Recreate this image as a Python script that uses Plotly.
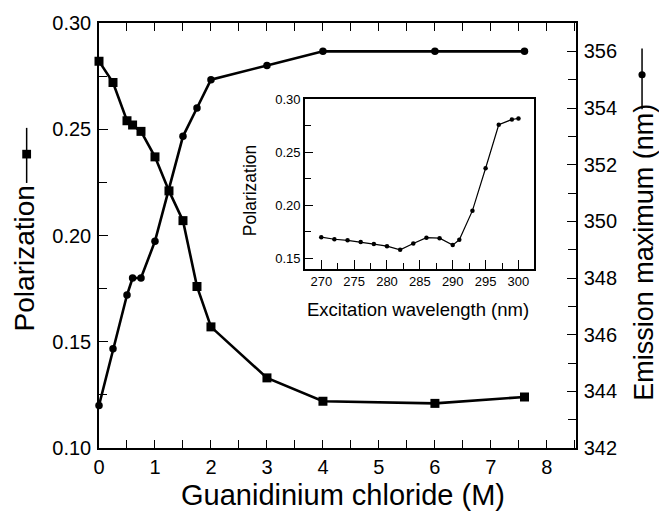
import plotly.graph_objects as go

# Denaturation series: polarization and emission maximum vs GdmCl concentration
gdm_conc = [0, 0.25, 0.5, 0.6, 0.75, 1.0, 1.25, 1.5, 1.75, 2.0, 3.0, 4.0, 6.0, 7.6]
polarization = [0.282, 0.272, 0.254, 0.252, 0.249, 0.237, 0.221, 0.207,
                0.176, 0.157, 0.133, 0.122, 0.121, 0.124]
emission_max = [343.5, 345.5, 347.4, 348.0, 348.0, 349.3, 351.1, 353.0,
                354.0, 355.0, 355.5, 356.0, 356.0, 356.0]

# Excitation spectrum of polarization (inset)
exc_wavelength = [270, 272, 274, 276, 278, 280, 282, 284, 286, 288, 290,
                  291, 293, 295, 297, 299, 300]
exc_polarization = [0.170, 0.168, 0.167, 0.1655, 0.1635, 0.1615, 0.158, 0.164,
                    0.1695, 0.169, 0.1625, 0.1675, 0.195, 0.235, 0.276, 0.281, 0.282]

main_xticks = [0, 1, 2, 3, 4, 5, 6, 7, 8]
left_yticks = [0.10, 0.15, 0.20, 0.25, 0.30]
right_yticks = [342, 344, 346, 348, 350, 352, 354, 356]
inset_xticks = [270, 275, 280, 285, 290, 295, 300]
inset_yticks = [0.15, 0.20, 0.25, 0.30]

W, H = 659, 515
L, R, T, B = 99, 575.7, 15.7, 447.7   # plot area in pixels
FONT = "Liberation Sans, Arial, Helvetica, sans-serif"


def px(x):
    return (x - L) / (R - L)


def py(y):
    return (B - y) / (B - T)


fig = go.Figure()

fig.add_trace(go.Scatter(
    x=gdm_conc, y=polarization, mode="lines+markers",
    line=dict(color="black", width=2.6),
    marker=dict(symbol="square", size=9, color="black"),
    xaxis="x", yaxis="y", showlegend=False, cliponaxis=False))

fig.add_trace(go.Scatter(
    x=gdm_conc, y=emission_max, mode="lines+markers",
    line=dict(color="black", width=2.6),
    marker=dict(symbol="circle", size=7.5, color="black"),
    xaxis="x", yaxis="y2", showlegend=False, cliponaxis=False))

fig.add_trace(go.Scatter(
    x=exc_wavelength, y=exc_polarization, mode="lines+markers",
    line=dict(color="black", width=1.2),
    marker=dict(symbol="circle", size=4.5, color="black"),
    xaxis="x2", yaxis="y3", showlegend=False))

axis_common = dict(showline=True, linecolor="black", linewidth=1.5,
                   ticks="inside", tickcolor="black", tickwidth=1.3,
                   showgrid=False, zeroline=False)

fig.update_layout(
    width=W, height=H,
    margin=dict(l=L, r=W - R, t=T, b=H - B, pad=0),
    paper_bgcolor="white", plot_bgcolor="white",
    font=dict(family=FONT, color="black"),
    xaxis=dict(
        **axis_common, range=[0, 8.52], tickvals=main_xticks,
        ticklen=8, mirror="ticks", tickfont=dict(size=20),
        minor=dict(dtick=0.5, tick0=0, ticks="inside", ticklen=8,
                   tickcolor="black", tickwidth=1.3),
        domain=[0, 1], anchor="y"),
    yaxis=dict(
        **axis_common, range=[0.10, 0.30], tickvals=left_yticks,
        tickformat=".2f", ticklen=9, tickfont=dict(size=20),
        ticklabelstandoff=2,
        minor=dict(dtick=0.025, tick0=0.1, ticks="inside", ticklen=8,
                   tickcolor="black", tickwidth=1.3),
        anchor="x"),
    yaxis2=dict(
        **axis_common, range=[342, 357], tickvals=right_yticks,
        overlaying="y", side="right", anchor="x",
        ticklen=9, tickfont=dict(size=20), ticklabelstandoff=2,
        minor=dict(dtick=1, tick0=342, ticks="inside", ticklen=8,
                   tickcolor="black", tickwidth=1.3)),
    xaxis2=dict(
        **axis_common, range=[267.5, 302.3], tickvals=inset_xticks,
        domain=[px(304.7), px(533.3)], anchor="y3", mirror=True,
        ticklen=9, tickfont=dict(size=13),
        minor=dict(dtick=2.5, tick0=270, ticks="inside", ticklen=6,
                   tickcolor="black", tickwidth=1.2)),
    yaxis3=dict(
        **axis_common, range=[0.14, 0.30], tickvals=inset_yticks,
        tickformat=".2f", domain=[py(265.7), py(93.3)], anchor="x2",
        mirror=True, ticklen=8, tickfont=dict(size=13),
        minor=dict(dtick=0.025, tick0=0.15, ticks="inside", ticklen=6,
                   tickcolor="black", tickwidth=1.2)),
)

# Axis titles
annotations = [
    dict(text="Guanidinium chloride (M)", x=px(342.5), y=py(495), textangle=0,
         font=dict(size=29)),
    dict(text="Polarization", x=px(24), y=py(255), textangle=-90,
         font=dict(size=28)),
    dict(text="Emission maximum (nm)", x=px(643), y=py(249), textangle=-90,
         font=dict(size=27)),
    dict(text="Excitation wavelength (nm)", x=px(418), y=py(307), textangle=0,
         font=dict(size=18.5)),
    dict(text="Polarization", x=px(250), y=py(186.5), textangle=-90,
         font=dict(size=17.5)),
]
for a in annotations:
    a.update(xref="paper", yref="paper", showarrow=False,
             xanchor="center", yanchor="middle")
fig.update_layout(annotations=annotations)

# Line-and-symbol keys beside the axis titles
shapes = [
    dict(type="line", x0=px(26.7), x1=px(26.7), y0=py(122.3), y1=py(178.3),
         line=dict(color="black", width=1.5)),
    dict(type="rect", x0=px(26.7 - 4.4), x1=px(26.7 + 4.4),
         y0=py(149 - 4.4), y1=py(149 + 4.4),
         fillcolor="black", line=dict(width=0)),
    dict(type="line", x0=px(641.7), x1=px(641.7), y0=py(41.7), y1=py(103.3),
         line=dict(color="black", width=1.5)),
    dict(type="circle", x0=px(641.7 - 3.6), x1=px(641.7 + 3.6),
         y0=py(68.3 - 3.6), y1=py(68.3 + 3.6),
         fillcolor="black", line=dict(width=0)),
]
for s in shapes:
    s.update(xref="paper", yref="paper")
fig.update_layout(shapes=shapes)

fig.write_html("out.html")
